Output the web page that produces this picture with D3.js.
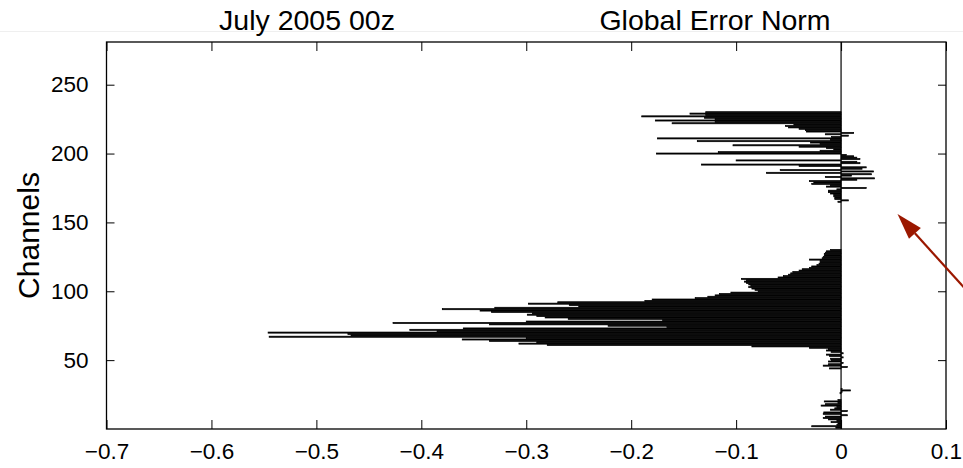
<!DOCTYPE html>
<html>
<head>
<meta charset="utf-8">
<script src="https://cdn.jsdelivr.net/npm/d3@7"></script>
<style>
    body { margin: 0; background: #fff; }
    text { font-family: 'Liberation Sans', Arial, Helvetica, sans-serif; fill: #000; }
</style>
</head>
<body>
<div class="canvas"></div>
<script>
// channel numbers and global error norm per channel (channels above 230 are zero)
const channels = d3.range(1, 231);
const errorNorm = [
    -0.005, -0.028, -0.004, -0.003, -0.0095, -0.004, -0.012, -0.017, -0.015, 0.006,
    -0.017, -0.0165, 0.006, -0.010, -0.006, -0.004, -0.019, -0.015, -0.003, -0.016,
    -0.003, 0, 0, 0, 0, -0.001, 0.001, 0.009, 0.001, 0,
    0, 0, 0, 0, 0, 0, 0, 0, 0, 0,
    0, 0, 0, -0.011, 0.006, -0.017, -0.012, 0.002, -0.012, -0.009,
    -0.010, 0.002, -0.011, -0.014, 0.002, -0.0095, -0.014, -0.012, -0.030, -0.085,
    -0.280, -0.307, -0.290, -0.335, -0.361, -0.300, -0.545, -0.467, -0.470, -0.546,
    -0.385, -0.411, -0.360, -0.166, -0.222, -0.335, -0.427, -0.300, -0.170, -0.260,
    -0.282, -0.290, -0.299, -0.294, -0.333, -0.344, -0.380, -0.330, -0.250, -0.259,
    -0.298, -0.270, -0.187, -0.180, -0.139, -0.127, -0.120, -0.116, -0.105, -0.079,
    -0.082, -0.085, -0.088, -0.086, -0.088, -0.090, -0.092, -0.090, -0.095, -0.060,
    -0.055, -0.050, -0.048, -0.046, -0.040, -0.037, -0.030, -0.028, -0.023, -0.021,
    -0.020, -0.020, -0.030, -0.018, -0.017, -0.016, -0.016, -0.015, -0.014, -0.010,
    0, 0, 0, 0, 0, 0, 0, 0, 0, 0,
    0, 0, 0, 0, 0, 0, 0, 0, 0, 0,
    0, 0, 0, 0, 0, 0, 0, 0, 0, 0,
    0, 0, 0, 0, -0.003, 0.007, -0.006, -0.006, -0.007, -0.007,
    -0.010, -0.012, -0.012, -0.004, 0.024, -0.014, -0.010, -0.028, -0.026, -0.030,
    0.015, 0.032, -0.015, 0.010, 0.029, -0.071, 0.031, -0.058, 0.020, 0.024,
    -0.040, -0.133, 0.018, 0.015, -0.100, 0.018, 0.015, 0.012, 0.005, -0.176,
    -0.117, -0.020, -0.007, -0.014, -0.040, -0.103, -0.020, -0.029, -0.137, -0.010,
    -0.175, -0.009, 0.007, -0.015, 0.012, -0.033, -0.034, -0.040, -0.050, -0.053,
    -0.045, -0.161, -0.120, -0.177, -0.120, -0.130, -0.190, -0.129, -0.144, -0.129
];
const xTicks = [-0.7, -0.6, -0.5, -0.4, -0.3, -0.2, -0.1, 0, 0.1];
const yTicks = [50, 100, 150, 200, 250];
const titleLeft = 'July 2005 00z';
const titleRight = 'Global Error Norm';
const yLabel = 'Channels';

const data = channels.map((c, i) => ({ channel: c, value: errorNorm[i] }));

const dimensions = { width: 963, height: 468 };
const plot = { left: 106.5, right: 946, top: 42, bottom: 429 };

const svg = d3.select('.canvas')
    .append('svg')
    .attr('width', dimensions.width)
    .attr('height', dimensions.height);

// faint rule across the top of the figure
svg.append('line')
    .attr('x1', 0).attr('x2', dimensions.width)
    .attr('y1', 31.5).attr('y2', 31.5)
    .attr('stroke', '#efefef');

const x = d3.scaleLinear().domain([-0.7, 0.1]).range([plot.left, plot.right]);
const y = d3.scaleLinear().domain([0, 281]).range([plot.bottom, plot.top]);

// bars
svg.append('g')
    .selectAll('rect')
    .data(data.filter(d => d.value !== 0))
    .enter()
    .append('rect')
    .attr('x', d => Math.min(x(d.value), x(0)))
    .attr('width', d => Math.abs(x(d.value) - x(0)))
    .attr('y', d => y(d.channel + 0.4))
    .attr('height', d => y(d.channel - 0.4) - y(d.channel + 0.4))
    .attr('fill', '#000')
    .attr('stroke', '#000')
    .attr('stroke-width', 0.7);

// zero baseline
svg.append('line')
    .attr('x1', x(0)).attr('x2', x(0))
    .attr('y1', plot.top).attr('y2', plot.bottom)
    .attr('stroke', '#000')
    .attr('stroke-width', 1.2);

// axes: ticks point inwards on all four sides
const bottomAxis = d3.axisBottom(x).tickValues(xTicks).tickSize(-9).tickPadding(14)
    .tickFormat(d => d === 0 ? '0' : d3.format('.1f')(d).replace('-', '\u2212'));
const topAxis = d3.axisTop(x).tickValues(xTicks).tickSize(-9).tickFormat('');
const leftAxis = d3.axisLeft(y).tickValues(yTicks).tickSize(-8).tickPadding(18);
const rightAxis = d3.axisRight(y).tickValues(yTicks).tickSize(-8).tickFormat('');

const styleAxis = g => {
    g.select('.domain').remove();
    g.selectAll('line').attr('stroke', '#000').attr('stroke-width', 1);
    g.selectAll('text').style('font-size', '22.5px').attr('fill', '#000');
};

svg.append('g').attr('transform', `translate(0, ${plot.bottom})`).call(bottomAxis).call(styleAxis);
svg.append('g').attr('transform', `translate(0, ${plot.top})`).call(topAxis).call(styleAxis);
svg.append('g').attr('transform', `translate(${plot.left}, 0)`).call(leftAxis).call(styleAxis);
svg.append('g').attr('transform', `translate(${plot.right}, 0)`).call(rightAxis).call(styleAxis);

// box
svg.append('rect')
    .attr('x', plot.left).attr('y', plot.top)
    .attr('width', plot.right - plot.left).attr('height', plot.bottom - plot.top)
    .attr('fill', 'none')
    .attr('stroke', '#000')
    .attr('stroke-width', 1.3);

// titles
svg.append('text')
    .attr('x', 307).attr('y', 30)
    .attr('text-anchor', 'middle')
    .style('font-size', '28.5px')
    .text(titleLeft);

svg.append('text')
    .attr('x', 715).attr('y', 30)
    .attr('text-anchor', 'middle')
    .style('font-size', '28.5px')
    .text(titleRight);

svg.append('text')
    .attr('transform', `translate(39, ${(plot.top + plot.bottom) / 2}) rotate(-90)`)
    .attr('text-anchor', 'middle')
    .style('font-size', '30px')
    .text(yLabel);

// red arrow pointing at the empty channel gap
const arrowColor = '#9b1800';
const tail = { x: 968, y: 292 };
const tip = { x: 897.5, y: 214 };
const angle = Math.atan2(tip.y - tail.y, tip.x - tail.x);
const headLen = 26, headHalf = 8;
const base = { x: tip.x - headLen * Math.cos(angle), y: tip.y - headLen * Math.sin(angle) };

svg.append('line')
    .attr('x1', tail.x).attr('y1', tail.y)
    .attr('x2', base.x).attr('y2', base.y)
    .attr('stroke', arrowColor)
    .attr('stroke-width', 2.2);

svg.append('path')
    .attr('d', d3.line()([
        [tip.x, tip.y],
        [base.x + headHalf * Math.sin(angle), base.y - headHalf * Math.cos(angle)],
        [base.x - headHalf * Math.sin(angle), base.y + headHalf * Math.cos(angle)]
    ]) + 'Z')
    .attr('fill', arrowColor);
</script>
</body>
</html>
